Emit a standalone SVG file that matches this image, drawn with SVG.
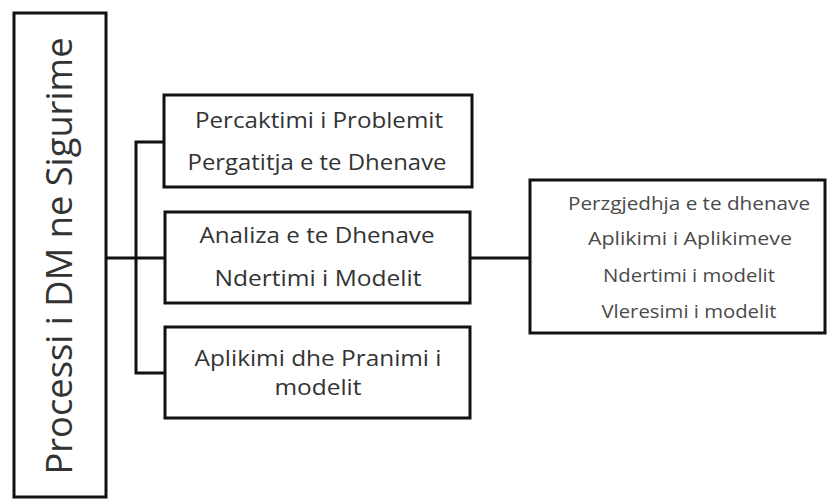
<svg xmlns="http://www.w3.org/2000/svg" width="828" height="502" viewBox="0 0 828 502">
<style>
.box{fill:#fff;stroke:#111;stroke-width:3}
.t{font-family:"Open Sans","Liberation Sans",sans-serif;fill:#333;text-anchor:middle;font-size:21px}
.s{font-size:19px;fill:#4a4a4a}
.v{font-size:37px;fill:#333}
.c{fill:none;stroke:#111;stroke-width:3}
</style>
<rect width="828" height="502" fill="#fff"/>
<g id="connectors">
<path class="c" d="M106 258 H165"/>
<path class="c" d="M165 142 H136 V373 H165"/>
<path class="c" d="M470 258 H530"/>
</g>
<g id="root">
<rect class="box" x="14" y="13" width="92" height="484"/>
<text class="t v" transform="translate(72 256) rotate(-90)" textLength="437" lengthAdjust="spacingAndGlyphs">Processi i DM ne Sigurime</text>
</g>
<g id="n1">
<rect class="box" x="164" y="95" width="308" height="92"/>
<text class="t" x="319" y="128" textLength="248" lengthAdjust="spacingAndGlyphs">Percaktimi i Problemit</text>
<text class="t" x="317" y="170" textLength="259" lengthAdjust="spacingAndGlyphs">Pergatitja e te Dhenave</text>
</g>
<g id="n2">
<rect class="box" x="165" y="212" width="305" height="91"/>
<text class="t" x="317" y="243" textLength="235" lengthAdjust="spacingAndGlyphs">Analiza e te Dhenave</text>
<text class="t" x="318" y="286" textLength="207" lengthAdjust="spacingAndGlyphs">Ndertimi i Modelit</text>
</g>
<g id="n3">
<rect class="box" x="165" y="327" width="305" height="91"/>
<text class="t" x="318" y="366" textLength="247" lengthAdjust="spacingAndGlyphs">Aplikimi dhe Pranimi i</text>
<text class="t" x="318" y="395" textLength="87" lengthAdjust="spacingAndGlyphs">modelit</text>
</g>
<g id="n4">
<rect class="box" x="530" y="180" width="295" height="153"/>
<text class="t s" x="689" y="210" textLength="242" lengthAdjust="spacingAndGlyphs">Perzgjedhja e te dhenave</text>
<text class="t s" x="690" y="245" textLength="204" lengthAdjust="spacingAndGlyphs">Aplikimi  i Aplikimeve</text>
<text class="t s" x="689" y="282" textLength="172" lengthAdjust="spacingAndGlyphs">Ndertimi i modelit</text>
<text class="t s" x="689" y="318" textLength="175" lengthAdjust="spacingAndGlyphs">Vleresimi i modelit</text>
</g>
</svg>
